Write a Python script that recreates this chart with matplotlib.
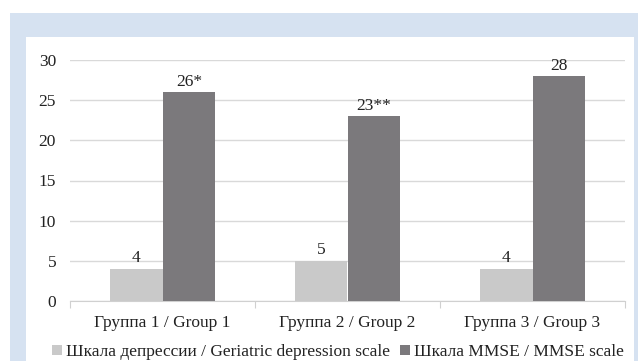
import matplotlib.pyplot as plt
import numpy as np
from matplotlib.patches import Rectangle

groups = ["Группа 1 / Group 1", "Группа 2 / Group 2", "Группа 3 / Group 3"]
depression = [4, 5, 4]
mmse = [26, 23, 28]
depression_labels = ["4", "5", "4"]
mmse_labels = ["26*", "23**", "28"]

plt.rcParams['font.family'] = ['Liberation Serif', 'DejaVu Serif']

fig = plt.figure(figsize=(6.38, 3.61), dpi=100)
W, H = 638, 361

# light blue frame with a white panel inside
fig.patches.append(Rectangle((10 / W, 0), 628 / W, 1 - 13 / H, transform=fig.transFigure,
                             facecolor="#d6e2f1", edgecolor="none", zorder=-2))
fig.patches.append(Rectangle((26 / W, 0), 608 / W, 1 - 37 / H, transform=fig.transFigure,
                             facecolor="white", edgecolor="none", zorder=-1))

ax = fig.add_axes([70 / W, 1 - 301 / H, 555 / W, 241 / H])
ax.patch.set_alpha(0)

fs = 12.5
x = np.arange(len(groups))
w = 0.285
b1 = ax.bar(x - w / 2, depression, w, color="#c9c9c9", label="Шкала депрессии / Geriatric depression scale", zorder=3)
b2 = ax.bar(x + w / 2, mmse, w, color="#7b797c", label="Шкала MMSE / MMSE scale", zorder=3)

for bars, labels in ((b1, depression_labels), (b2, mmse_labels)):
    for r, t in zip(bars, labels):
        ax.text(r.get_x() + r.get_width() / 2, r.get_height() + 0.3, t,
                ha="center", va="bottom", fontsize=fs, color="#222222")

ax.set_xlim(-0.5, 2.5)
ax.set_ylim(0, 30)
ax.set_yticks(range(0, 31, 5))
ax.yaxis.grid(True, color="#d9d9d9", linewidth=1, zorder=0)
for s in ("top", "right", "left"):
    ax.spines[s].set_visible(False)
ax.spines["bottom"].set_color("#d0d0d0")
ax.tick_params(axis="y", length=0, labelsize=fs, labelcolor="#222222", pad=10)

# category labels between boundary ticks
ax.set_xticks([-0.5, 0.5, 1.5, 2.5])
ax.set_xticklabels([])
ax.tick_params(axis="x", length=5, color="#d0d0d0")
for i, g in enumerate(groups):
    ax.text(i, -0.06, g, transform=ax.get_xaxis_transform(), ha="center", va="top",
            fontsize=fs, color="#222222")

ax.legend(loc="center", bbox_to_anchor=(338 / W, 1 - 352 / H), bbox_transform=fig.transFigure,
          ncol=2, frameon=False, fontsize=fs, handlelength=0.55, handleheight=0.55,
          handletextpad=0.25, columnspacing=0.6, labelcolor="#222222", borderpad=0)

plt.savefig("out.png", dpi=100)
